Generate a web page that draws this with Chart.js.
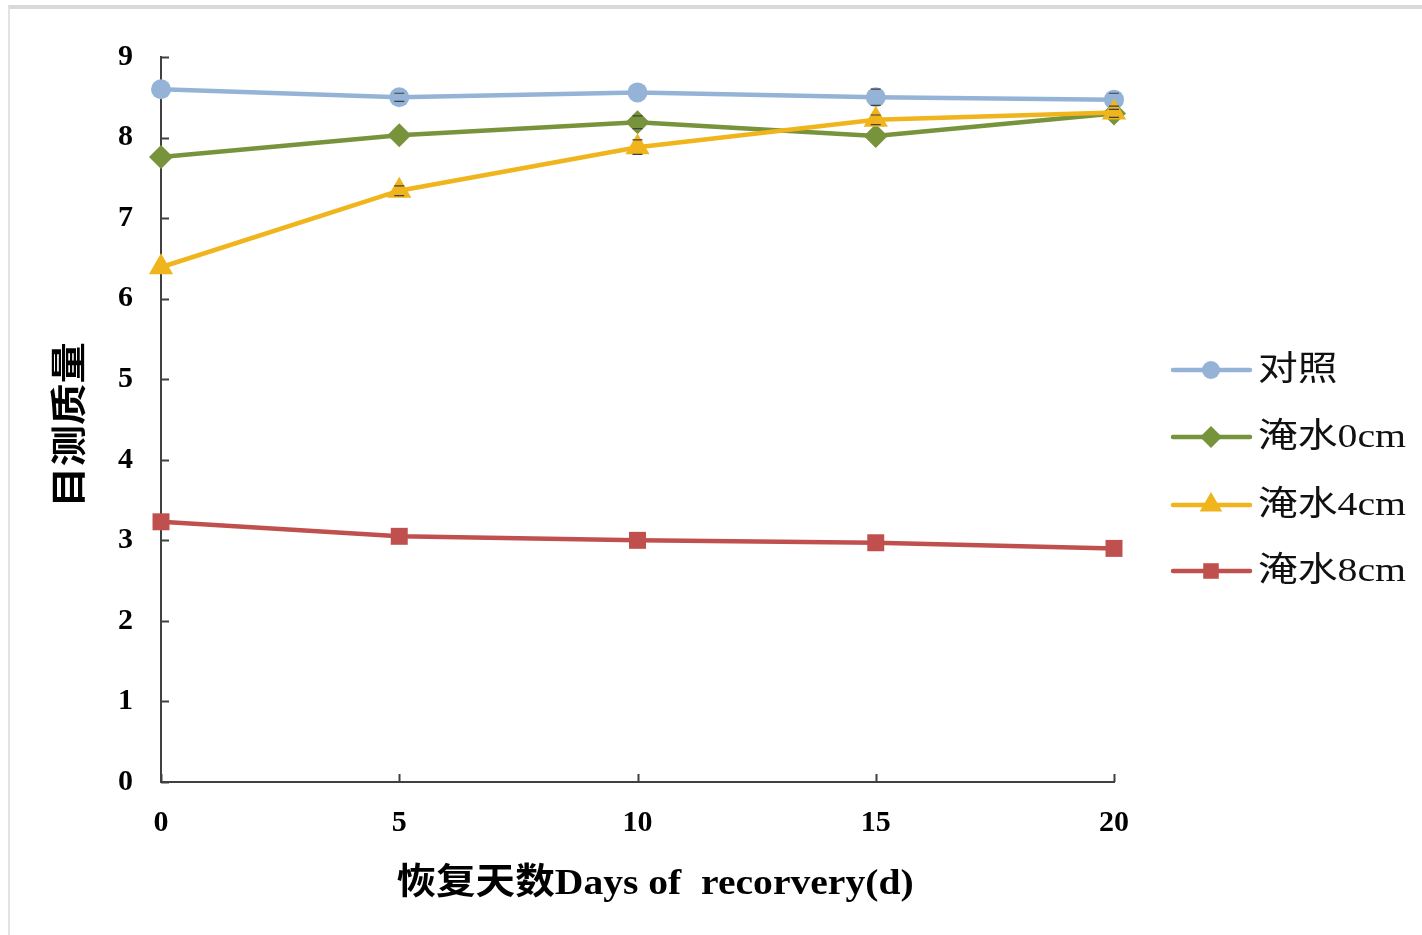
<!DOCTYPE html>
<html>
<head>
<meta charset="utf-8">
<script src="https://cdn.jsdelivr.net/npm/chart.js@4.4.1/dist/chart.umd.min.js"></script>
<style>
  html, body { margin: 0; padding: 0; background: #fff; overflow: hidden; }
  #frame {
    position: absolute; left: 8px; top: 5px; width: 1420px; height: 935px;
    border-top: 4px solid #d9d9d9; border-left: 2px solid #e3e3e3;
  }
  #wrap { position: absolute; left: 0; top: 0; width: 1422px; height: 935px; }
</style>
</head>
<body>
<div id="frame"></div>
<div id="wrap"><canvas id="qualityChart"></canvas></div>
<script>
// Recovery days and visual quality scores
const days = [0, 5, 10, 15, 20];
const seriesNames = ['对照', '淹水0cm', '淹水4cm', '淹水8cm'];
const controlValues = [8.60, 8.50, 8.56, 8.50, 8.47];
const flood0Values = [7.76, 8.03, 8.19, 8.02, 8.30];
const flood4Values = [6.39, 7.34, 7.88, 8.22, 8.31];
const flood8Values = [3.23, 3.05, 3.00, 2.97, 2.90];
const controlErrors = [0, 0.05, 0, 0.10, 0.08];
const flood0Errors = [0, 0, 0.08, 0, 0.05];
const flood4Errors = [0, 0.06, 0.09, 0.06, 0];
const flood8Errors = [0, 0, 0, 0, 0];
const yTicks = [0, 1, 2, 3, 4, 5, 6, 7, 8, 9];
const xTitle = '恢复天数Days of  recorvery(d)';
const yTitle = '目测质量';

const colors = ['#95b3d7', '#77933c', '#f0b41c', '#c0504d'];
const pointStyles = ['circle', 'rectRot', 'triangle', 'rect'];
const pointSizes = [10, 12, 14, 12];
const allValues = [controlValues, flood0Values, flood4Values, flood8Values];
const allErrors = [controlErrors, flood0Errors, flood4Errors, flood8Errors];

const serif = '"Liberation Serif", "Times New Roman", "Noto Sans CJK SC", serif';
const axisColor = '#404040';

function toPoints(values) {
    return days.map((d, i) => ({ x: d, y: values[i] }));
}

const datasets = seriesNames.map((name, i) => ({
    label: name,
    data: toPoints(allValues[i]),
    borderColor: colors[i],
    backgroundColor: colors[i],
    borderWidth: 4.5,
    pointStyle: pointStyles[i],
    pointRadius: pointSizes[i],
    pointBorderWidth: 0,
    pointBackgroundColor: colors[i],
    tension: 0,
    clip: false,
    order: 4 - i
}));

/**
 * Inward tick marks, as in the original figure
 */
const innerTicks = {
    id: 'innerTicks',
    afterDraw(chart) {
        const { ctx, chartArea, scales } = chart;
        ctx.save();
        ctx.strokeStyle = axisColor;
        ctx.lineWidth = 2;
        ctx.beginPath();
        scales.y.ticks.forEach(t => {
            const py = Math.round(scales.y.getPixelForValue(t.value)) + 0.5;
            ctx.moveTo(chartArea.left, py);
            ctx.lineTo(chartArea.left + 8, py);
        });
        scales.x.ticks.forEach(t => {
            const px = Math.round(scales.x.getPixelForValue(t.value)) + 0.5;
            ctx.moveTo(px, chartArea.bottom);
            ctx.lineTo(px, chartArea.bottom - 8);
        });
        ctx.stroke();
        ctx.restore();
    }
};

/**
 * Small error bars with caps
 */
const errorBars = {
    id: 'errorBars',
    afterDatasetsDraw(chart) {
        const { ctx, scales } = chart;
        ctx.save();
        ctx.strokeStyle = axisColor;
        ctx.lineWidth = 1.2;
        allErrors.forEach((errs, s) => {
            errs.forEach((e, i) => {
                if (!e) return;
                const px = scales.x.getPixelForValue(days[i]);
                const top = scales.y.getPixelForValue(allValues[s][i] + e);
                const bot = scales.y.getPixelForValue(allValues[s][i] - e);
                ctx.beginPath();
                ctx.moveTo(px - 5, top); ctx.lineTo(px + 5, top);
                ctx.moveTo(px - 5, bot); ctx.lineTo(px + 5, bot);
                ctx.stroke();
            });
        });
        ctx.restore();
    }
};

function stretchedText(ctx, text, x, y, sx, align) {
    ctx.save();
    ctx.translate(x, y);
    ctx.scale(sx, 1);
    ctx.textAlign = align;
    ctx.fillText(text, 0, 0);
    ctx.restore();
}

/**
 * Axis titles and the legend at the right side
 */
const labelsAndLegend = {
    id: 'labelsAndLegend',
    afterDraw(chart) {
        const { ctx, chartArea } = chart;
        ctx.save();
        ctx.fillStyle = '#000';
        ctx.font = 'bold 36px ' + serif;
        ctx.textBaseline = 'middle';
        stretchedText(ctx, xTitle, chartArea.left + 494, 885, 1.1, 'center');

        ctx.save();
        ctx.translate(73, 425);
        ctx.rotate(-Math.PI / 2);
        stretchedText(ctx, yTitle, 0, 0, 1.15, 'center');
        ctx.restore();

        const rowY = [370, 437, 505, 571];
        const lx = chartArea.right + 59;
        seriesNames.forEach((name, i) => {
            const y = rowY[i];
            ctx.strokeStyle = colors[i];
            ctx.lineWidth = 4.5;
            ctx.lineCap = 'round';
            ctx.beginPath();
            ctx.moveTo(lx, y);
            ctx.lineTo(lx + 77, y);
            ctx.stroke();
            ctx.fillStyle = colors[i];
            Chart.helpers.drawPoint(ctx, {
                pointStyle: pointStyles[i],
                radius: pointSizes[i] - 1,
                borderWidth: 0
            }, lx + 38, y);
            ctx.fillStyle = '#111';
            ctx.font = '34px ' + serif;
            stretchedText(ctx, name, lx + 85, y + 1, 1.17, 'left');
        });
        ctx.restore();
    }
};

const tickFont = { family: serif, size: 30, weight: 'bold' };

new Chart(document.getElementById('qualityChart').getContext('2d'), {
    type: 'line',
    data: { datasets },
    options: {
        responsive: true,
        maintainAspectRatio: false,
        animation: false,
        layout: { padding: { top: 57, right: 308, left: 0, bottom: 0 } },
        plugins: {
            legend: { display: false },
            tooltip: { enabled: false }
        },
        scales: {
            x: {
                type: 'linear',
                min: 0,
                max: 20,
                afterFit: s => { s.height = 153; },
                afterBuildTicks: s => { s.ticks = days.map(v => ({ value: v })); },
                ticks: { color: '#000', font: tickFont, padding: 23 },
                grid: { drawOnChartArea: false, drawTicks: false },
                border: { color: axisColor, width: 2 }
            },
            y: {
                min: 0,
                max: 9,
                afterFit: s => { s.width = 161; },
                afterBuildTicks: s => { s.ticks = yTicks.map(v => ({ value: v })); },
                ticks: { color: '#000', font: tickFont, padding: 28 },
                grid: { drawOnChartArea: false, drawTicks: false },
                border: { color: axisColor, width: 2 }
            }
        }
    },
    plugins: [innerTicks, errorBars, labelsAndLegend]
});
</script>
</body>
</html>
